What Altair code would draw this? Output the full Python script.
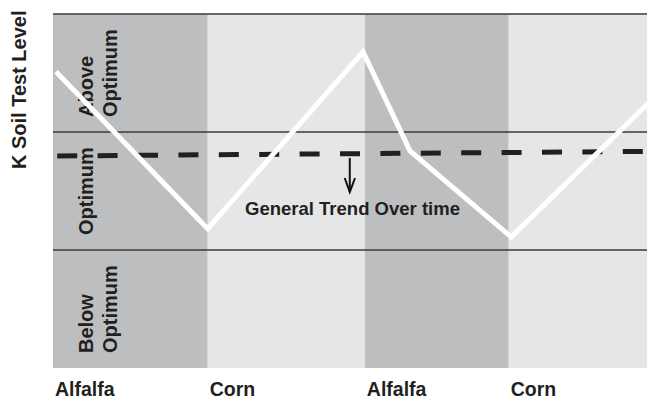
import altair as alt
import pandas as pd

# ---- data ----
crops = ["Alfalfa", "Corn", "Alfalfa", "Corn"]
band_start = [0.0, 25.7, 51.8, 75.7]
band_end = [25.7, 51.8, 75.7, 100.0]
band_shade = ["dark", "light", "dark", "light"]

zone_names = ["Below\nOptimum", "Optimum", "Above\nOptimum"]
zone_low = [0, 1, 2]
zone_lines = [1, 2, 3]

k_time = [0.5, 25.7, 51.5, 59.3, 76.1, 100.0]
k_level = [2.51, 1.18, 2.68, 1.84, 1.11, 2.30]

trend_time = [0.7, 98.0]
trend_level = [1.797, 1.835]

arrow_part = ["shaft", "shaft", "head", "head", "head"]
arrow_seq = [0, 1, 0, 1, 2]
arrow_time = [49.3, 49.3, 48.46, 49.3, 50.17]
arrow_level = [1.78, 1.49, 1.61, 1.49, 1.61]

note_text = ["General Trend Over time"]
note_time = [31.9]
note_level = [1.30]

FONT = "Liberation Sans"

bands = pd.DataFrame({"start": band_start, "end": band_end, "shade": band_shade, "crop": crops})
zones = pd.DataFrame({"name": zone_names, "low": zone_low})
rules = pd.DataFrame({"level": zone_lines})
kline = pd.DataFrame({"t": k_time, "v": k_level})
trend = pd.DataFrame({"t": trend_time, "v": trend_level})
arrow = pd.DataFrame({"part": arrow_part, "seq": arrow_seq, "t": arrow_time, "v": arrow_level})
note = pd.DataFrame({"text": note_text, "t": note_time, "v": note_level})

xs = alt.Scale(domain=[0, 100], nice=False, zero=False)
ys = alt.Scale(domain=[0, 3], nice=False, zero=False)

yaxis = alt.Axis(
    title="K Soil Test Level", labels=False, ticks=False, domain=False, grid=False,
    titleFont=FONT, titleFontSize=20, titleFontWeight="bold", titleColor="#231f20",
    titleAngle=270, titleAlign="right", titleBaseline="alphabetic",
    titleX=-28, titleY=-4,
)

band_layer = alt.Chart(bands).mark_rect().encode(
    x=alt.X("start:Q", scale=xs, axis=None),
    x2="end:Q",
    y=alt.Y(datum=0, scale=ys, axis=yaxis),
    y2=alt.Y2(datum=3),
    color=alt.Color("shade:N", scale=alt.Scale(domain=["dark", "light"], range=["#bdbec0", "#e5e6e8"]), legend=None),
)

rule_layer = alt.Chart(rules).mark_rule(color="#3a3a3a", strokeWidth=1.5).encode(
    y=alt.Y("level:Q", scale=ys),
)

trend_layer = alt.Chart(trend).mark_line(
    color="#231f20", strokeWidth=5, strokeDash=[20, 20.4], strokeCap="butt"
).encode(x=alt.X("t:Q", scale=xs), y=alt.Y("v:Q", scale=ys))

arrow_layer = alt.Chart(arrow).mark_line(color="#111111", strokeWidth=2).encode(
    x=alt.X("t:Q", scale=xs), y=alt.Y("v:Q", scale=ys), detail="part:N", order="seq:Q"
)

zone_layer = alt.Chart(zones).mark_text(
    angle=270, align="left", baseline="alphabetic", lineBreak="\n", lineHeight=24,
    font=FONT, fontSize=20, fontWeight="bold", color="#231f20", dx=15, dy=39.5,
).encode(x=alt.X(datum=0, scale=xs), y=alt.Y("low:Q", scale=ys), text="name:N")

kline_layer = alt.Chart(kline).mark_line(color="white", strokeWidth=5, strokeJoin="miter").encode(
    x=alt.X("t:Q", scale=xs), y=alt.Y("v:Q", scale=ys)
)

note_layer = alt.Chart(note).mark_text(
    align="left", baseline="alphabetic", font=FONT, fontSize=18.5, fontWeight="bold", color="#231f20"
).encode(x=alt.X("t:Q", scale=xs), y=alt.Y("v:Q", scale=ys), text="text:N")

crop_layer = alt.Chart(bands).mark_text(
    align="left", baseline="alphabetic", font=FONT, fontSize=19.5, fontWeight="bold", color="#231f20", dx=2, dy=28,
).encode(x=alt.X("start:Q", scale=xs), y=alt.Y(datum=0, scale=ys), text="crop:N")

chart = alt.layer(
    band_layer, rule_layer, trend_layer, arrow_layer, zone_layer, kline_layer, note_layer, crop_layer
).properties(
    width=602, height=354,
    autosize=alt.AutoSizeParams(type="none"),
    padding={"left": 45, "top": 6, "right": -8, "bottom": 32},
    background="white",
).configure_view(stroke=None)

chart.save("out.html", embed_options={"renderer": "svg", "actions": False})
